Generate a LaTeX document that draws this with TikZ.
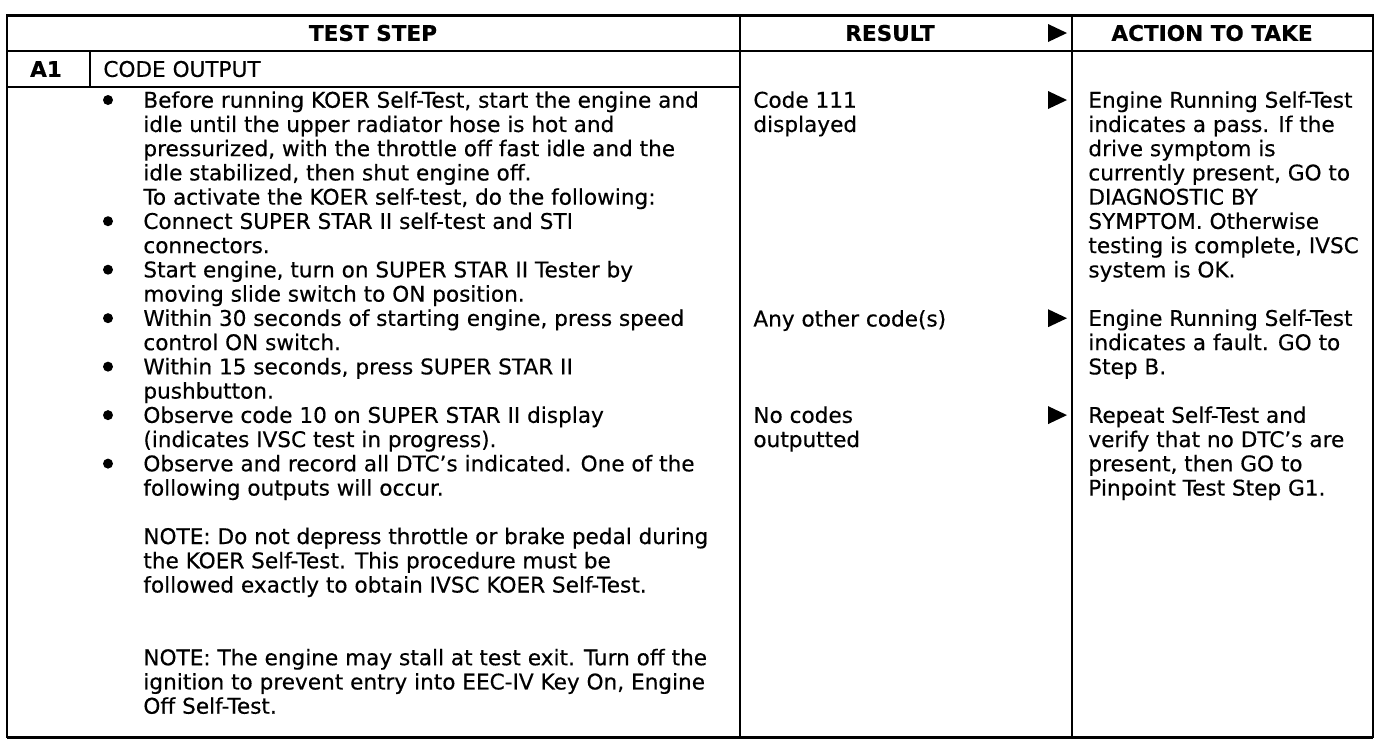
\documentclass[tikz,border=0pt]{standalone}
\usepackage{fontspec}
\setmainfont{DejaVu Sans}[FakeBold=0.4]
\usetikzlibrary{calc}

\tikzset{
    rule/.style={line width=1pt},
    edge/.style={line width=1.5pt},
    head/.style={inner sep=0pt, font=\bfseries\fontsize{10.8}{12.12}\selectfont},
    label/.style={inner sep=0pt, anchor=west, font=\fontsize{10.8}{12.12}\selectfont},
    cell/.style={
        anchor=north west,
        inner sep=0pt,
        align=left,
        font=\fontsize{10.8}{12.12}\selectfont,
        execute at begin node=\strut
    }
}

\begin{document}
\begin{tikzpicture}[x=0.5pt,y=-0.5pt]
\useasboundingbox (0,0) rectangle (1392,746);

% frame and rules
\draw[rule] (7,15) rectangle (1373,737);
\draw[rule] (7,51) -- (1373,51);
\draw[rule] (7,87) -- (740,87);
\draw[rule] (90,51) -- (90,87);
\draw[rule] (740,15) -- (740,737);
\draw[rule] (1072,15) -- (1072,737);
\draw[edge] (7,15) -- (1373,15) (7,737) -- (1373,737);

% header
\node[head] (teststep) at (373,33) {TEST STEP};
\node[head] (result) at (890,33) {RESULT};
\node[head] (action) at (1212,33) {ACTION TO TAKE};

\node[head] (stepno) at (46,69) {A1};
\node[label] (steptitle) at (103,69) {CODE OUTPUT};

% test step
\foreach \n in {0,5,7,9,11,13,15}
    \fill (108,{100+24.24*\n}) circle (2.5pt);

\node[cell] (steptext) at (143,90.9) {
    Before running KOER Self-Test, start the engine and\\
    idle until the upper radiator hose is hot and\\
    pressurized, with the throttle off fast idle and the\\
    idle stabilized, then shut engine off.\\
    To activate the KOER self-test, do the following:\\
    Connect SUPER STAR II self-test and STI\\
    connectors.\\
    Start engine, turn on SUPER STAR II Tester by\\
    moving slide switch to ON position.\\
    Within 30 seconds of starting engine, press speed\\
    control ON switch.\\
    Within 15 seconds, press SUPER STAR II\\
    pushbutton.\\
    Observe code 10 on SUPER STAR II display\\
    (indicates IVSC test in progress).\\
    Observe and record all DTC’s indicated. One of the\\
    following outputs will occur.};

\node[cell] (note1) at (143,527.2) {
    NOTE: Do not depress throttle or brake pedal during\\
    the KOER Self-Test. This procedure must be\\
    followed exactly to obtain IVSC KOER Self-Test.};

\node[cell] (note2) at (143,648.4) {
    NOTE: The engine may stall at test exit. Turn off the\\
    ignition to prevent entry into EEC-IV Key On, Engine\\
    Off Self-Test.};

% result
\node[cell] (res1) at (753,90.9) {Code 111\\displayed};
\node[cell] (res2) at (753,309.1) {Any other code(s)};
\node[cell] (res3) at (753,406.0) {No codes\\outputted};

% arrows
\foreach \y in {33,100,318.2,415.1}
    \fill (1048,\y-9) -- (1067,\y) -- (1048,\y+9) -- cycle;

% action to take
\node[cell] (act1) at (1088,90.9) {
    Engine Running Self-Test\\
    indicates a pass. If the\\
    drive symptom is\\
    currently present, GO to\\
    DIAGNOSTIC BY\\
    SYMPTOM. Otherwise\\
    testing is complete, IVSC\\
    system is OK.};
\node[cell] (act2) at (1088,309.1) {
    Engine Running Self-Test\\
    indicates a fault. GO to\\
    Step B.};
\node[cell] (act3) at (1088,406.0) {
    Repeat Self-Test and\\
    verify that no DTC’s are\\
    present, then GO to\\
    Pinpoint Test Step G1.};
\end{tikzpicture}
\end{document}
